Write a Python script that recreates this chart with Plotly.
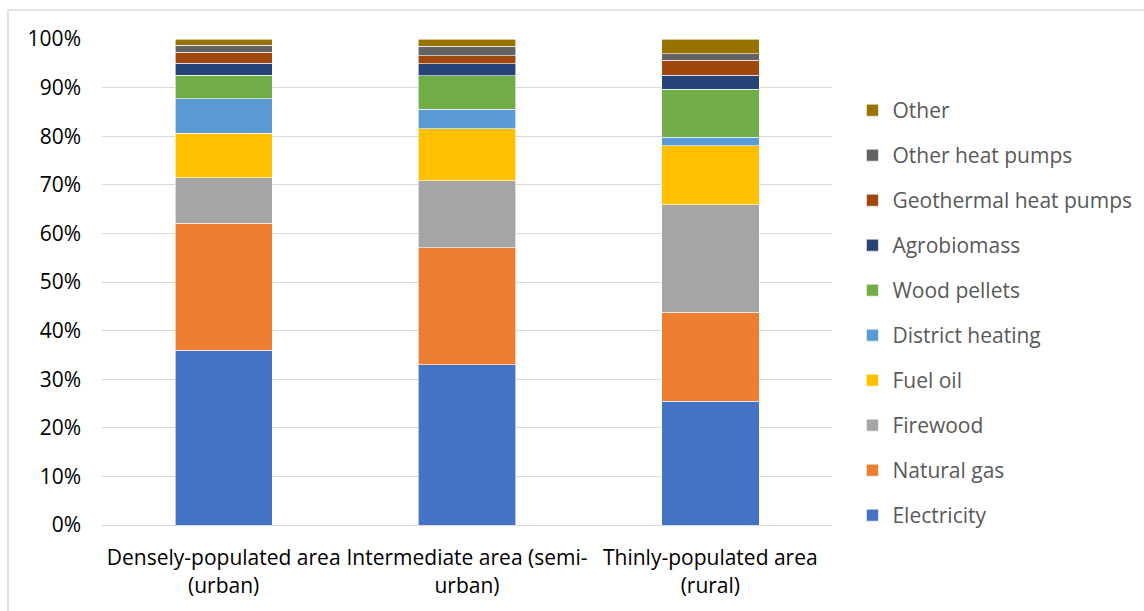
import plotly.graph_objects as go

# Share of households by main heating source, per degree of urbanisation
areas = [
    "Densely-populated area<br>(urban)",
    "Intermediate area (semi-<br>urban)",
    "Thinly-populated area<br>(rural)",
]

electricity = [36.0, 33.0, 25.5]
natural_gas = [26.1, 24.0, 18.3]
firewood = [9.4, 13.8, 22.1]
fuel_oil = [9.1, 10.7, 12.1]
district_heating = [7.1, 4.0, 1.8]
wood_pellets = [4.8, 6.9, 9.9]
agrobiomass = [2.5, 2.5, 2.8]
geothermal_hp = [2.3, 1.7, 3.1]
other_hp = [1.4, 1.9, 1.4]
other = [1.3, 1.5, 3.0]

series = [
    ("Electricity", electricity, "#4472C4"),
    ("Natural gas", natural_gas, "#ED7D31"),
    ("Firewood", firewood, "#A5A5A5"),
    ("Fuel oil", fuel_oil, "#FFC000"),
    ("District heating", district_heating, "#5B9BD5"),
    ("Wood pellets", wood_pellets, "#70AD47"),
    ("Agrobiomass", agrobiomass, "#264478"),
    ("Geothermal heat pumps", geothermal_hp, "#9E480E"),
    ("Other heat pumps", other_hp, "#636363"),
    ("Other", other, "#997300"),
]

FONT = "Open Sans"
SIZE = 21

fig = go.Figure()
n = len(series)
for i, (name, vals, color) in enumerate(series):
    fig.add_trace(go.Bar(
        x=areas,
        y=[v / 100 for v in vals],
        name=name,
        legendgroup=name,
        legendrank=n - i,
        marker=dict(color=color, line=dict(color="white", width=0.6)),
        width=0.4,
    ))

fig.update_layout(
    barmode="stack",
    width=1144,
    height=611,
    margin=dict(l=102, r=312, t=39, b=86, autoexpand=False),
    paper_bgcolor="white",
    plot_bgcolor="white",
    font=dict(family=FONT, size=SIZE, color="#000000"),
    showlegend=True,
    legend=dict(
        x=1.028, xanchor="left",
        y=0.895, yanchor="top",
        traceorder="grouped",
        tracegroupgap=14.7,
        font=dict(family=FONT, size=SIZE, color="#595959"),
        itemwidth=30,
        bgcolor="rgba(0,0,0,0)",
    ),
    xaxis=dict(
        showgrid=False,
        showline=True,
        linecolor="#D9D9D9",
        linewidth=1,
        ticks="",
        ticklabelstandoff=14,
        tickfont=dict(family=FONT, size=SIZE, color="#000000"),
    ),
    yaxis=dict(
        range=[0, 1],
        tickvals=[i / 10 for i in range(11)],
        tickformat=".0%",
        showgrid=True,
        gridcolor="#D9D9D9",
        gridwidth=1,
        zeroline=False,
        ticks="",
        ticklabelstandoff=20,
        tickfont=dict(family=FONT, size=SIZE, color="#000000"),
    ),
    shapes=[dict(
        type="rect", xref="paper", yref="paper",
        x0=-0.1288, x1=1.45, y0=-0.2, y1=1.0597,
        line=dict(color="#D9D9D9", width=1.5),
        fillcolor="rgba(0,0,0,0)",
        layer="below",
    )],
)

fig.write_html("out.html")
